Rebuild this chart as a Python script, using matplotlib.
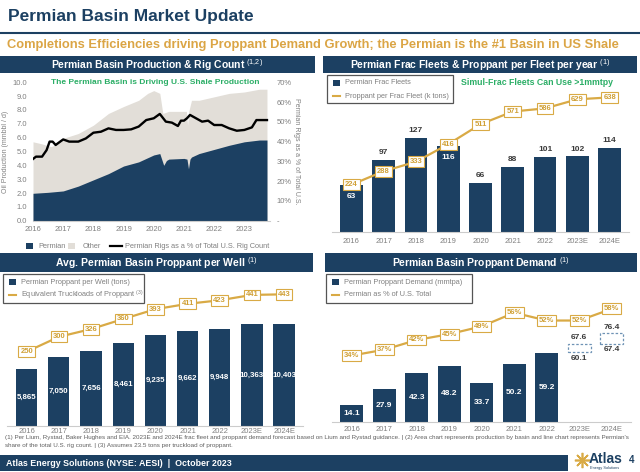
import matplotlib.pyplot as plt
from matplotlib.patches import Rectangle
from matplotlib.lines import Line2D
import numpy as np

plt.rcParams['font.family'] = ['Liberation Sans', 'DejaVu Sans']
plt.rcParams['mathtext.fontset'] = 'custom'
plt.rcParams['mathtext.rm'] = 'Liberation Sans'
plt.rcParams['mathtext.default'] = 'rm'

# ---------------- data ----------------
# top-left: production (mmbbl/d) and Permian share of rigs (%)
yr_perm = [2016.0, 2016.5, 2017.0, 2017.5, 2018.0, 2018.5, 2019.0, 2019.5, 2020.0, 2020.2,
           2020.33, 2020.42, 2020.5, 2021.0, 2021.1, 2021.15, 2021.2, 2021.25, 2021.5, 2022.0,
           2022.5, 2023.0, 2023.5, 2023.75]
permian = [1.98, 2.05, 2.15, 2.5, 2.95, 3.4, 3.95, 4.25, 4.75, 4.85,
           4.0, 4.35, 4.45, 4.5, 4.45, 3.75, 4.45, 4.6, 4.85, 5.15,
           5.45, 5.7, 5.83, 5.83]

yr_total = [2016.0, 2016.3, 2016.6, 2016.75, 2017.0, 2017.5, 2018.0, 2018.5, 2019.0, 2019.5,
            2019.8, 2020.0, 2020.2, 2020.3, 2020.5, 2021.0, 2021.08, 2021.12, 2021.16, 2021.25,
            2021.5, 2022.0, 2022.5, 2023.0, 2023.5, 2023.75]
total = [5.7, 5.55, 5.35, 5.5, 5.95, 6.3, 6.9, 7.75, 8.25, 8.7,
         9.2, 9.4, 9.2, 7.75, 7.9, 7.9, 7.9, 6.9, 7.9, 8.7,
         8.7, 8.95, 9.2, 9.3, 9.5, 9.5]

yr_rig = [2016.0, 2016.1, 2016.3, 2016.45, 2016.55, 2016.65, 2016.75, 2016.9, 2017.0, 2017.2,
          2017.5, 2017.75, 2018.0, 2018.25, 2018.5, 2018.75, 2019.0, 2019.25, 2019.5, 2019.75,
          2020.0, 2020.2, 2020.4, 2020.6, 2020.8, 2020.9, 2021.0, 2021.1, 2021.2, 2021.4,
          2021.6, 2021.8, 2022.0, 2022.25, 2022.5, 2022.75, 2023.0, 2023.25, 2023.4, 2023.6,
          2023.75]
rig_share = [31.2, 32.4, 32.4, 35.7, 40.0, 40.0, 38.3, 40.0, 41.1, 40.0,
             40.0, 41.6, 44.5, 45.0, 46.7, 45.9, 45.9, 46.2, 47.6, 50.9,
             51.8, 54.0, 50.1, 49.6, 47.9, 50.6, 50.6, 51.8, 53.5, 51.8,
             50.1, 50.6, 48.4, 48.4, 46.7, 45.5, 45.9, 47.2, 50.9, 50.9,
             50.9]

years = ['2016', '2017', '2018', '2019', '2020', '2021', '2022', '2023E', '2024E']

frac_fleets = [63, 97, 127, 116, 66, 88, 101, 102, 114]
prop_per_fleet = [224, 288, 333, 416, 511, 571, 586, 629, 638]

prop_per_well = [5865, 7050, 7656, 8461, 9235, 9662, 9948, 10363, 10403]
truckloads = [250, 300, 326, 360, 393, 411, 423, 441, 443]

demand = [14.1, 27.9, 42.3, 48.2, 33.7, 50.2, 59.2]
demand_low = [60.1, 67.4]
demand_high = [67.6, 76.4]
permian_share = [34, 37, 42, 45, 49, 56, 52, 52, 58]

# ---------------- style ----------------
navy = '#1C4062'
gold = '#D9AA45'
gold_txt = '#D0A035'
other_c = '#E2DED8'
green = '#2BAE66'
grey = '#808080'
dark = '#3A3A3A'

W, H = 640, 472
fig = plt.figure(figsize=(6.4, 4.72), dpi=100)


def px_axes(x0, y0, x1, y1):
    return fig.add_axes([x0 / W, 1 - y1 / H, (x1 - x0) / W, (y1 - y0) / H])


def px_text(x, y, s, **kw):
    return fig.text(x / W, 1 - y / H, s, **kw)


def px_rect(x0, y0, x1, y1, **kw):
    r = Rectangle((x0 / W, 1 - y1 / H), (x1 - x0) / W, (y1 - y0) / H,
                  transform=fig.transFigure, **kw)
    fig.patches.append(r)


def px_line(x0, x1, y, **kw):
    fig.add_artist(Line2D([x0 / W, x1 / W], [1 - y / H, 1 - y / H],
                          transform=fig.transFigure, **kw))


# ---------------- slide chrome ----------------
px_text(8, 16, 'Permian Basin Market Update', fontsize=12.5, fontweight='bold',
        color=navy, va='center')
px_line(0, 640, 33, color=navy, lw=1.5)
px_text(7, 45, 'Completions Efficiencies driving Proppant Demand Growth; the Permian is the #1 Basin in US Shale',
        fontsize=9.3, fontweight='bold', color='#DBA545', va='center')

headers = [
    (0, 56, 315, 73, 'Permian Basin Production & Rig Count $^{(1{,}2)}$'),
    (323, 56, 637, 73, 'Permian Frac Fleets & Proppant per Fleet per year $^{(1)}$'),
    (0, 253, 313, 272, 'Avg. Permian Basin Proppant per Well $^{(1)}$'),
    (325, 253, 637, 272, 'Permian Basin Proppant Demand $^{(1)}$'),
]
for x0, y0, x1, y1, t in headers:
    px_rect(x0, y0, x1, y1, color=navy, lw=0)
    px_text((x0 + x1) / 2, (y0 + y1) / 2 + 0.5, t, fontsize=7.5, fontweight='bold',
            color='white', ha='center', va='center')


def style_bar_axes(ax, pad=4):
    for s in ['top', 'right', 'left']:
        ax.spines[s].set_visible(False)
    ax.spines['bottom'].set_color('#CCCCCC')
    ax.set_yticks([])
    ax.tick_params(axis='x', length=0, labelsize=5.5, labelcolor=grey, pad=pad)
    ax.patch.set_alpha(0)


def label_box(ax, x, y, s):
    ax.text(x, y, s, ha='center', va='center', fontsize=5.5, fontweight='bold',
            color=gold_txt, zorder=5,
            bbox=dict(boxstyle='square,pad=0.25', fc='white', ec=gold, lw=0.8))


def legend_box(x0, y0, x1, y1, items):
    px_rect(x0, y0, x1, y1, fill=False, ec='#555555', lw=0.9)
    for (kind, txt), yy in zip(items, [y0 + 8, y0 + 21]):
        if kind == 'bar':
            px_rect(x0 + 6, yy - 3, x0 + 13, yy + 3, color=navy, lw=0)
        else:
            px_line(x0 + 6, x0 + 13, yy, color=gold, lw=1.5)
        px_text(x0 + 18, yy, txt, fontsize=5.3, color=grey, va='center')


# ---------------- top-left: production & rig count ----------------
ax1 = px_axes(33, 82.3, 270, 220.7)
ax1.fill_between(yr_total, total, color=other_c, lw=0)
ax1.fill_between(yr_perm, permian, color=navy, lw=0)
ax1.set_xlim(2016, 2023.85)
ax1.set_ylim(0, 10)
ax1.set_yticks(np.arange(0, 10.1, 1))
ax1.set_yticklabels([f'{v:.1f}' for v in np.arange(0, 10.1, 1)])
ax1.set_xticks(range(2016, 2024))
ax1.tick_params(length=0, labelsize=5.5, labelcolor=grey, pad=4)
for s in ['top', 'right', 'left']:
    ax1.spines[s].set_visible(False)
ax1.spines['bottom'].set_color('#CCCCCC')
ax1.set_ylabel('Oil Production (mmbbl / d)', fontsize=5, color=grey, labelpad=3)

ax1r = ax1.twinx()
ax1r.plot(yr_rig, rig_share, color='black', lw=1.7)
ax1r.set_ylim(0, 70)
ax1r.set_yticks(range(0, 71, 10))
ax1r.set_yticklabels(['-'] + [f'{v}%' for v in range(10, 71, 10)])
ax1r.tick_params(length=0, labelsize=5.5, labelcolor=grey, pad=5)
for s in ['top', 'right', 'left', 'bottom']:
    ax1r.spines[s].set_visible(False)
ax1r.set_ylabel('Permian Rigs as a % of Total U.S.', fontsize=5, color=grey,
                rotation=-90, labelpad=6)

px_text(155, 82, 'The Permian Basin is Driving U.S. Shale Production', fontsize=6,
        fontweight='bold', color=green, ha='center', va='center')

# legend (top-left)
px_rect(26, 243, 33, 249, color=navy, lw=0)
px_text(38, 246, 'Permian', fontsize=5.3, color=grey, va='center')
px_rect(68, 243, 75, 249, color=other_c, lw=0)
px_text(83, 246, 'Other', fontsize=5.3, color=grey, va='center')
px_line(110, 122, 246, color='black', lw=1.6)
px_text(125, 246, 'Permian Rigs as a % of Total U.S. Rig Count', fontsize=5.3,
        color=grey, va='center')

# ---------------- top-right: frac fleets ----------------
x = np.arange(len(years))
ax2 = px_axes(332, 78, 629, 232)
ax2.bar(x, frac_fleets, width=0.7, color=navy)
ax2.set_xlim(-0.6, 8.6)
ax2.set_ylim(0, 208)
ax2.set_xticks(x)
ax2.set_xticklabels(years)
style_bar_axes(ax2)
for i, v in enumerate(frac_fleets):
    if i in (0, 3):
        ax2.text(i, v - 15, str(v), ha='center', va='center', fontsize=6,
                 fontweight='bold', color='white')
    else:
        ax2.text(i, v + 10, str(v), ha='center', va='center', fontsize=6,
                 fontweight='bold', color=dark)
ax2b = ax2.twinx()
ax2b.plot(x, prop_per_fleet, color=gold, lw=1.6)
ax2b.set_ylim(0, 730)
ax2b.set_yticks([])
for s in ax2b.spines.values():
    s.set_visible(False)
for i, v in enumerate(prop_per_fleet):
    label_box(ax2b, i, v, str(v))

legend_box(327, 75, 453, 103, [('bar', 'Permian Frac Fleets'),
                               ('line', 'Proppant per Frac Fleet (k tons)')])
px_text(537, 82.5, 'Simul-Frac Fleets Can Use >1mmtpy', fontsize=6.3,
        fontweight='bold', color=green, ha='center', va='center')

# ---------------- bottom-left: proppant per well ----------------
ax3 = px_axes(7.4, 275, 303.4, 426)
ax3.bar(x, prop_per_well, width=0.66, color=navy)
ax3.set_xlim(-0.6, 8.6)
ax3.set_ylim(0, 15408)
ax3.set_xticks(x)
ax3.set_xticklabels(years)
style_bar_axes(ax3, pad=1.5)
for i, v in enumerate(prop_per_well):
    ax3.text(i, v / 2, f'{v:,}', ha='center', va='center', fontsize=5.7,
             fontweight='bold', color='white')
ax3b = ax3.twinx()
ax3b.plot(x, truckloads, color=gold, lw=1.6)
ax3b.set_ylim(0, 508)
ax3b.set_yticks([])
for s in ax3b.spines.values():
    s.set_visible(False)
for i, v in enumerate(truckloads):
    label_box(ax3b, i, v, str(v))

legend_box(3, 274, 144, 303, [('bar', 'Permian Proppant per Well (tons)'),
                              ('line', 'Equivalent Truckloads of Proppant $^{(3)}$')])

# ---------------- bottom-right: proppant demand ----------------
ax4 = px_axes(332.2, 275, 631.2, 421.7)
xd = np.arange(len(demand))
ax4.bar(xd, demand, width=0.7, color=navy)
ax4.set_xlim(-0.6, 8.6)
ax4.set_ylim(0, 127)
ax4.set_xticks(x)
ax4.set_xticklabels(years)
style_bar_axes(ax4, pad=3)
for i, v in enumerate(demand):
    ax4.text(i, v / 2, f'{v:.1f}', ha='center', va='center', fontsize=6,
             fontweight='bold', color='white')
for j, (lo, hi) in enumerate(zip(demand_low, demand_high)):
    xi = len(demand) + j
    ax4.add_patch(Rectangle((xi - 0.35, lo), 0.7, hi - lo, fill=False,
                            ec='#6F93B5', lw=0.9, ls=(0, (2, 1.5))))
    ax4.text(xi, hi + 5, f'{hi:.1f}', ha='center', va='center', fontsize=6,
             fontweight='bold', color=dark)
    ax4.text(xi, lo - 5, f'{lo:.1f}', ha='center', va='center', fontsize=6,
             fontweight='bold', color=dark)
ax4b = ax4.twinx()
ax4b.plot(x, permian_share, color=gold, lw=1.6)
ax4b.set_ylim(0, 75.4)
ax4b.set_yticks([])
for s in ax4b.spines.values():
    s.set_visible(False)
for i, v in enumerate(permian_share):
    label_box(ax4b, i, v, f'{v}%')

legend_box(326, 274, 472, 303, [('bar', 'Permian Proppant Demand (mmtpa)'),
                                ('line', 'Permian as % of U.S. Total')])

# ---------------- footnotes & footer ----------------
px_text(5, 438, "(1) Per Lium, Rystad, Baker Hughes and EIA. 2023E and 2024E frac fleet and proppant demand "
        "forecast based on Lium and Rystad guidance. | (2) Area chart represents production by basin and line "
        "chart represents Permian's", fontsize=4.5, color='#606060', va='center')
px_text(5, 445, 'share of the total U.S. rig count. | (3) Assumes 23.5 tons per truckload of proppant.',
        fontsize=4.5, color='#606060', va='center')

px_rect(0, 455, 568, 471, color=navy, lw=0)
px_text(6, 463, 'Atlas Energy Solutions (NYSE: AESI)  |  October 2023', fontsize=6.4,
        fontweight='bold', color='white', va='center')
fig.add_artist(Line2D([582 / W], [1 - 460 / H], marker=(8, 2, 0), markersize=11,
                      color=gold, mew=1.2, transform=fig.transFigure))
px_text(589, 459, 'Atlas', fontsize=10, fontweight='bold', color=navy, va='center')
px_text(590, 467.5, 'Energy Solutions', fontsize=2.8, color=navy, va='center')
px_text(632, 460, '4', fontsize=7, fontweight='bold', color=navy, va='center', ha='center')

fig.savefig('out.png', dpi=100)
